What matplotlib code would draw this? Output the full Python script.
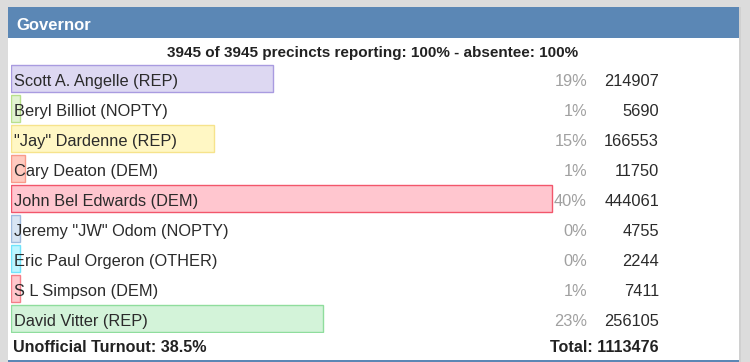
import matplotlib.pyplot as plt
from matplotlib.patches import Rectangle
from matplotlib.transforms import blended_transform_factory

plt.rcParams['font.family'] = ['Liberation Sans', 'DejaVu Sans']

title = "Governor"
subtitle = "3945 of 3945 precincts reporting: 100% - absentee: 100%"
candidates = ["Scott A. Angelle (REP)", "Beryl Billiot (NOPTY)", "\"Jay\" Dardenne (REP)",
              "Cary Deaton (DEM)", "John Bel Edwards (DEM)", "Jeremy \"JW\" Odom (NOPTY)",
              "Eric Paul Orgeron (OTHER)", "S L Simpson (DEM)", "David Vitter (REP)"]
votes = [214907, 5690, 166553, 11750, 444061, 4755, 2244, 7411, 256105]
pct_labels = ["19%", "1%", "15%", "1%", "40%", "0%", "0%", "1%", "23%"]
fills = ["#ddd8f2", "#e2f3d2", "#fff7c4", "#ffcac0", "#ffc6cf", "#d8e5f3", "#bdf5ff", "#ffc8cd", "#d3f3d9"]
edges = ["#a99be0", "#b8e08c", "#f6e38c", "#f99a8a", "#f2566b", "#9fbbde", "#70e4fb", "#f47e88", "#8fdd9d"]
turnout = "Unofficial Turnout: 38.5%"
total = sum(votes)

W, H = 750, 362
fig = plt.figure(figsize=(W / 100, H / 100), dpi=100)
fig.patch.set_facecolor("#dcdcdc")

# panel background in pixel coordinates
bg = fig.add_axes([0, 0, 1, 1])
bg.set_xlim(0, W)
bg.set_ylim(H, 0)
bg.axis("off")
bg.add_patch(Rectangle((8, 7), 733, 356, facecolor="#d0d0d0", edgecolor="none"))
bg.add_patch(Rectangle((8, 7), 731, 356, facecolor="white", edgecolor="none"))
bg.add_patch(Rectangle((8, 7), 731, 31, facecolor="#5b87b5", edgecolor="none"))
bg.add_patch(Rectangle((8, 360), 731, 3, facecolor="#5b87b5", edgecolor="none"))
bg.text(16, 29.5, title, color="white", fontsize=12, fontweight="bold", va="baseline", ha="left")
bg.text(373, 56.5, subtitle, color="#222222", fontsize=11, fontweight="bold", va="baseline", ha="center")
bg.text(13, 352.5, turnout, color="#222222", fontsize=11.6, fontweight="bold", va="baseline", ha="left")
bg.text(659, 352.5, "Total: %d" % total, color="#222222", fontsize=11.6, fontweight="bold",
        va="baseline", ha="right")

# bars
px_per_share = 1356
left_px, right_px = 11, 739
top_px, row_px = 63, 30
n = len(candidates)
ax = fig.add_axes([left_px / W, 1 - (top_px + row_px * n) / H,
                   (right_px - left_px) / W, row_px * n / H])
ax.set_xlim(0, (right_px - left_px) / px_per_share)
ax.set_ylim(n - 0.5, -0.5)
ax.axis("off")

shares = [max(v / total, 0.007) for v in votes]
ax.barh(range(n), shares, height=0.9, left=0, color=fills, edgecolor=edges, linewidth=1.0)

tr = blended_transform_factory(fig.transFigure, ax.transData)
base = 8 / row_px
for i in range(n):
    ax.text(14 / W, i + base, candidates[i], transform=tr, fontsize=11.8, color="#2b2b2b",
            va="baseline", ha="left")
    ax.text(587 / W, i + base, pct_labels[i], transform=tr, fontsize=11.8, color="#a0a0a0",
            va="baseline", ha="right")
    ax.text(659 / W, i + base, str(votes[i]), transform=tr, fontsize=11.8, color="#2b2b2b",
            va="baseline", ha="right")

fig.savefig("out.png", dpi=100, facecolor=fig.get_facecolor())
